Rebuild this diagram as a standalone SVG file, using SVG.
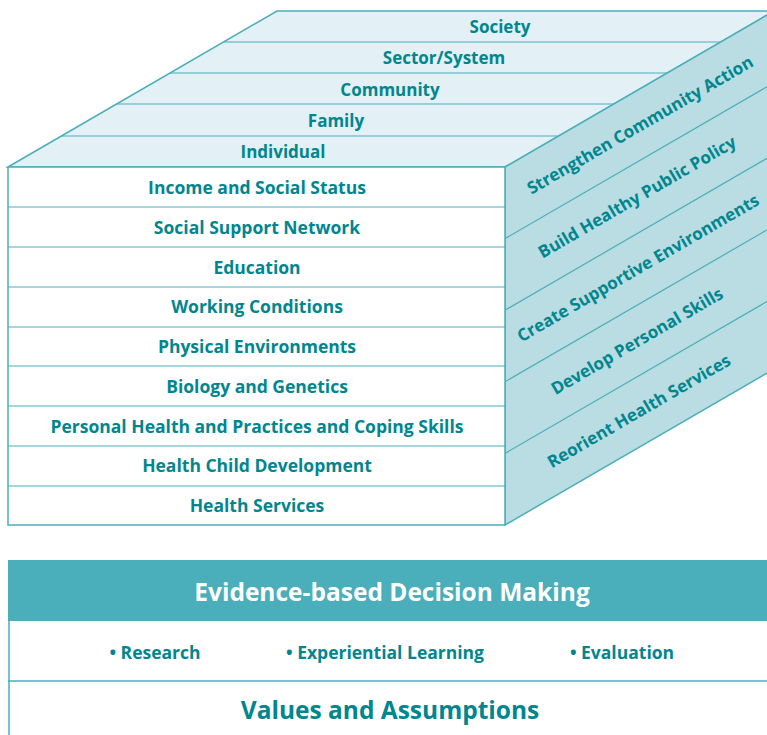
<svg xmlns="http://www.w3.org/2000/svg" width="767" height="735" viewBox="0 0 767 735">
<style>
.edge{stroke:#4aaebb;stroke-width:1.5;fill:none}
.thin{stroke:#4aaebb;stroke-width:1.2;fill:none}
.lbl{font-family:"Open Sans","Noto Sans",sans-serif;font-weight:bold;fill:#00868f;text-anchor:middle}
.f{font-size:17.5px}
.t{font-size:17px}
.r{font-size:17px}
</style>
<rect width="767" height="735" fill="#ffffff"/>
<g id="top-face">
<polygon points="8,167 277,11 774,11 505,167" fill="#e3f0f5" stroke="#4aaebb" stroke-width="1.5"/>
<line class="thin" x1="223.6" y1="42" x2="720.5" y2="42"/>
<line class="thin" x1="170.1" y1="73" x2="667.1" y2="73"/>
<line class="thin" x1="116.6" y1="104" x2="613.6" y2="104"/>
<line class="thin" x1="61.5" y1="136" x2="558.5" y2="136"/>
<text id="society" class="lbl t" x="500" y="33">Society</text>
<text id="sector" class="lbl t" x="444" y="64">Sector/System</text>
<text id="community" class="lbl t" x="390" y="96">Community</text>
<text id="family" class="lbl t" x="336" y="127">Family</text>
<text id="individual" class="lbl t" x="283" y="158">Individual</text>
</g>
<g id="right-face">
<polygon points="505,167 774,11 774,369 505,525" fill="#b9dde2" stroke="#4aaebb" stroke-width="1.5"/>
<line class="thin" x1="505" y1="238.6" x2="767" y2="86.7"/>
<line class="thin" x1="505" y1="310.2" x2="767" y2="158.3"/>
<line class="thin" x1="505" y1="381.8" x2="767" y2="229.9"/>
<line class="thin" x1="505" y1="453.4" x2="767" y2="301.5"/>
<text class="lbl r" transform="translate(640,125) rotate(-30.1)" x="0" y="6">Strengthen Community Action</text>
<text class="lbl r" transform="translate(637,197) rotate(-30.1)" x="0" y="6">Build Healthy Public Policy</text>
<text class="lbl r" transform="translate(638,268) rotate(-30.1)" x="0" y="6">Create Supportive Environments</text>
<text class="lbl r" transform="translate(637,341) rotate(-30.1)" x="0" y="6">Develop Personal Skills</text>
<text class="lbl r" transform="translate(639,411) rotate(-30.1)" x="0" y="6">Reorient Health Services</text>
</g>
<g id="front-face">
<rect x="8" y="167" width="497" height="358" fill="#ffffff" stroke="#4aaebb" stroke-width="1.5"/>
<line class="thin" x1="8" y1="207" x2="505" y2="207"/>
<line class="thin" x1="8" y1="247" x2="505" y2="247"/>
<line class="thin" x1="8" y1="287" x2="505" y2="287"/>
<line class="thin" x1="8" y1="327" x2="505" y2="327"/>
<line class="thin" x1="8" y1="366" x2="505" y2="366"/>
<line class="thin" x1="8" y1="406" x2="505" y2="406"/>
<line class="thin" x1="8" y1="446" x2="505" y2="446"/>
<line class="thin" x1="8" y1="486" x2="505" y2="486"/>
<text class="lbl f" x="257" y="194">Income and Social Status</text>
<text class="lbl f" x="257" y="234">Social Support Network</text>
<text class="lbl f" x="257" y="274">Education</text>
<text class="lbl f" x="257" y="313">Working Conditions</text>
<text class="lbl f" x="257" y="353">Physical Environments</text>
<text class="lbl f" x="257" y="393">Biology and Genetics</text>
<text class="lbl f" x="257" y="433">Personal Health and Practices and Coping Skills</text>
<text class="lbl f" x="257" y="472">Health Child Development</text>
<text class="lbl f" x="257" y="512">Health Services</text>
</g>
<g id="evidence">
<rect x="8" y="560" width="760" height="61" fill="#4aaebb"/>
<text class="lbl" x="392" y="601" style="font-size:24.5px;fill:#ffffff">Evidence-based Decision Making</text>
</g>
<g id="methods">
<line class="edge" x1="9" y1="621" x2="9" y2="735"/>
<line class="edge" x1="8" y1="681" x2="767" y2="681"/>
<text class="lbl" x="155" y="659" style="font-size:17.5px">• Research</text>
<text class="lbl" x="385" y="659" style="font-size:17.5px">• Experiential Learning</text>
<text class="lbl" x="622" y="659" style="font-size:17.5px">• Evaluation</text>
</g>
<g id="values">
<text class="lbl" x="390" y="719" style="font-size:24.5px">Values and Assumptions</text>
</g>
</svg>
